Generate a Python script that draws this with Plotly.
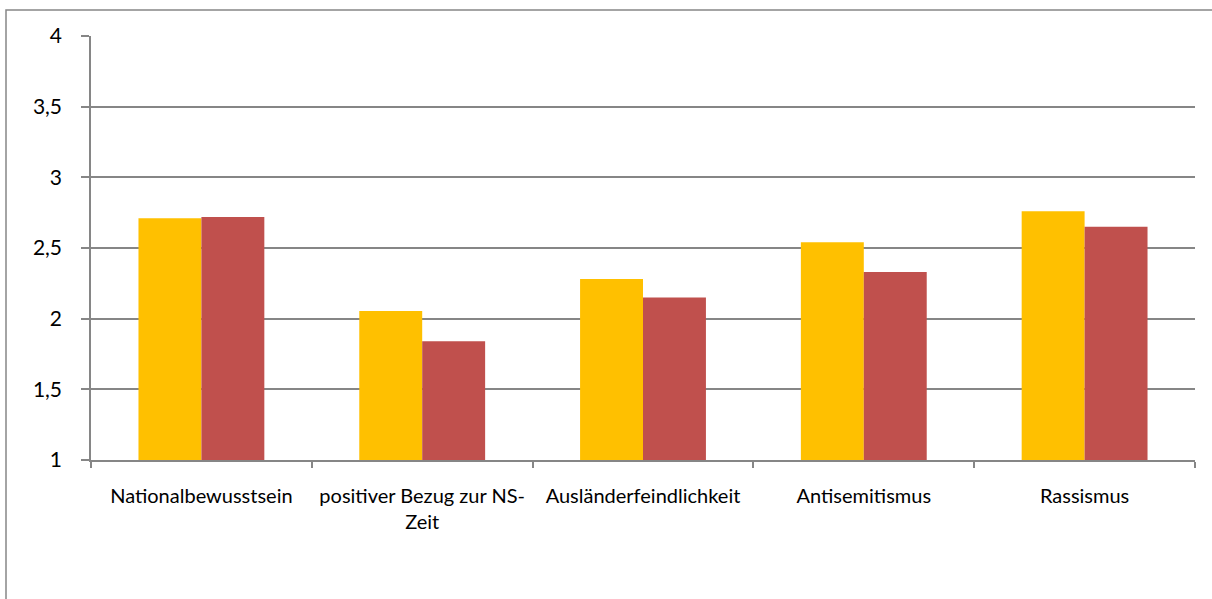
import plotly.graph_objects as go

categories = ["Nationalbewusstsein", "positiver Bezug zur NS-<br>Zeit", "Ausländerfeindlichkeit", "Antisemitismus", "Rassismus"]
series_a = [2.71, 2.055, 2.28, 2.54, 2.76]
series_b = [2.72, 1.84, 2.15, 2.33, 2.65]
y_ticks = [1, 1.5, 2, 2.5, 3, 3.5, 4]

FONT = "Lato"
GRID = "#868686"

fig = go.Figure()
fig.add_trace(go.Bar(x=categories, y=series_a, marker=dict(color="#FFC000", line=dict(width=0)), showlegend=False))
fig.add_trace(go.Bar(x=categories, y=series_b, marker=dict(color="#C0504D", line=dict(width=0)), showlegend=False))

fig.update_layout(
    width=1212, height=599,
    margin=dict(l=91, r=17, t=36, b=139),
    paper_bgcolor="white", plot_bgcolor="white",
    barmode="group", bargap=0.43, bargroupgap=0,
    separators=", ",
    font=dict(family=FONT, color="#000000"),
    xaxis=dict(
        type="category", showgrid=False, showline=True, linecolor=GRID, linewidth=1.5,
        ticks="outside", tickson="boundaries", ticklen=6, tickcolor=GRID, tickwidth=1.5,
        tickfont=dict(family=FONT, size=20), ticklabelstandoff=17,
    ),
    yaxis=dict(
        range=[1, 4], tickvals=y_ticks, showgrid=True, gridcolor=GRID, gridwidth=1.5,
        showline=True, linecolor=GRID, linewidth=1.5, zeroline=False,
        ticks="outside", ticklen=8, tickcolor=GRID, tickwidth=1.5,
        tickfont=dict(family=FONT, size=21), ticklabelstandoff=15,
    ),
    shapes=[dict(type="rect", xref="paper", yref="paper",
                 x0=(6 - 91) / 1104, x1=1.2, y0=-0.6, y1=(460 - 10) / 424,
                 line=dict(color=GRID, width=1.5), fillcolor="rgba(0,0,0,0)", layer="below")],
)

fig.write_html("out.html", config={"displayModeBar": False},
               post_script="document.body.style.margin='0';document.body.style.overflow='hidden';")
